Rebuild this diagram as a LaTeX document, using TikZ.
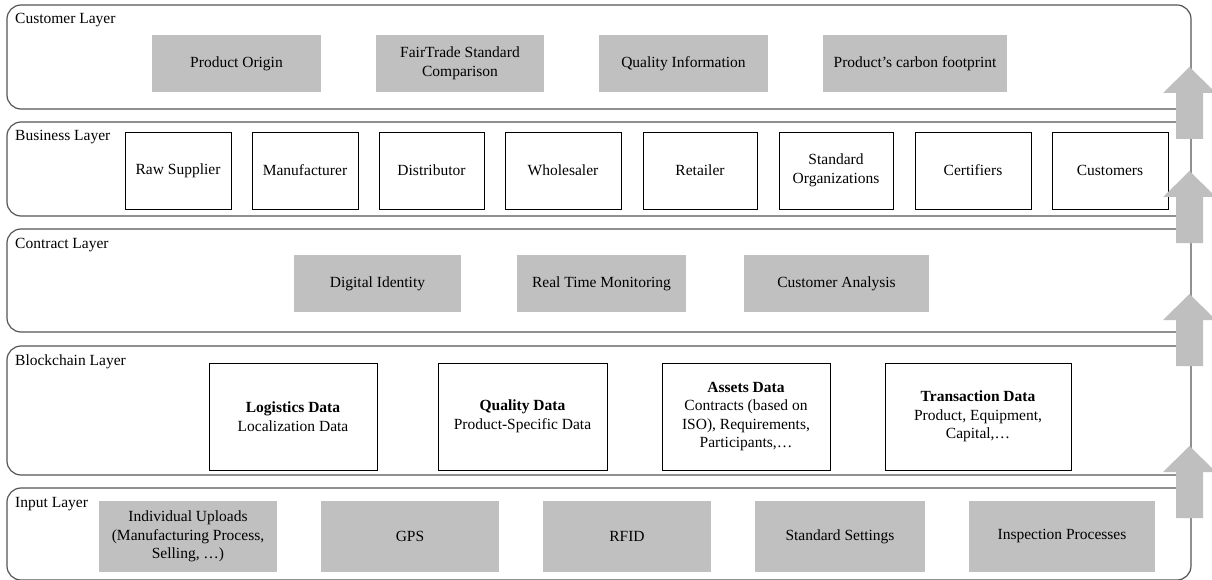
\documentclass[tikz,border=0pt]{standalone}
\usepackage{fontspec}
\IfFontExistsTF{LiberationSerif-Regular.ttf}
  {\setmainfont{LiberationSerif}[Extension=.ttf,UprightFont=*-Regular,BoldFont=*-Bold,ItalicFont=*-Italic,BoldItalicFont=*-BoldItalic]}
  {\setmainfont{Liberation Serif}}
\definecolor{boxgray}{HTML}{C0C0C0}
\definecolor{arrowgray}{HTML}{BFBFBF}
\definecolor{framegray}{HTML}{555555}
\begin{document}
\begin{tikzpicture}[x=1pt,y=-1pt,
  every node/.style={font=\fontsize{15.5}{18.5}\selectfont},
  layerbox/.style={draw=framegray, line width=1.2pt, rounded corners=14pt, fill=white,
    inner sep=0pt, outer sep=0pt, anchor=north west},
  lbl/.style={inner sep=0pt, anchor=base west},
  boxbase/.style={inner sep=0pt, outer sep=0pt, align=center, anchor=north west},
  graybox/.style={boxbase, fill=boxgray},
  whitebox/.style={boxbase, draw=black, line width=0.9pt, fill=white},
  blockarrow/.style={fill=arrowgray}
]
\clip (0,0) rectangle (1212,580);
\fill[white] (0,0) rectangle (1212,580);

% layers
\node[layerbox, minimum width=1184pt, minimum height=104pt] (Lcust) at (7,5) {};
\node[layerbox, minimum width=1184pt, minimum height=94pt]  (Lbus)  at (7,122) {};
\node[layerbox, minimum width=1184pt, minimum height=103pt] (Lcon)  at (7,229) {};
\node[layerbox, minimum width=1184pt, minimum height=129pt] (Lblk)  at (7,346) {};
\node[layerbox, minimum width=1184pt, minimum height=92pt]  (Linp)  at (7,488) {};

\node[lbl] (tcust) at (15,24)  {Customer Layer};
\node[lbl] (tbus)  at (15,141) {Business Layer};
\node[lbl] (tcon)  at (15,248) {Contract Layer};
\node[lbl] (tblk)  at (15,365) {Blockchain Layer};
\node[lbl] (tinp)  at (15,507) {Input Layer};

% customer layer
\node[graybox, minimum width=169pt, minimum height=57pt] (po) at (152,35) {Product Origin};
\node[graybox, minimum width=168pt, minimum height=57pt] (ft) at (376,35) {FairTrade Standard\\Comparison};
\node[graybox, minimum width=169pt, minimum height=57pt] (qi) at (599,35) {Quality Information};
\node[graybox, minimum width=184pt, minimum height=57pt] (pc) at (823,35) {Product's carbon footprint};

% business layer
\node[whitebox, minimum width=106pt, minimum height=77pt] (raw) at (125,132) {Raw Supplier};
\node[whitebox, minimum width=106pt, minimum height=77pt] (man) at (252,132) {Manufacturer};
\node[whitebox, minimum width=105pt, minimum height=77pt] (dis) at (379,132) {Distributor};
\node[whitebox, minimum width=116pt, minimum height=77pt] (who) at (505,132) {Wholesaler};
\node[whitebox, minimum width=114pt, minimum height=77pt] (ret) at (643,132) {Retailer};
\node[whitebox, minimum width=114pt, minimum height=77pt] (sto) at (779,132) {Standard\\Organizations};
\node[whitebox, minimum width=116pt, minimum height=77pt] (cer) at (915,132) {Certifiers};
\node[whitebox, minimum width=116pt, minimum height=77pt] (cus) at (1052,132) {Customers};

% contract layer
\node[graybox, minimum width=167pt, minimum height=57pt] (di) at (294,255) {Digital Identity};
\node[graybox, minimum width=169pt, minimum height=57pt] (rt) at (517,255) {Real Time Monitoring};
\node[graybox, minimum width=185pt, minimum height=57pt] (ca) at (744,255) {Customer Analysis};

% blockchain layer
\node[whitebox, minimum width=168pt, minimum height=107pt] (ld) at (209,363) {\textbf{Logistics Data}\\Localization Data};
\node[whitebox, minimum width=169pt, minimum height=107pt] (qd) at (438,363) {\textbf{Quality Data}\\Product-Specific Data};
\node[whitebox, minimum width=168pt, minimum height=107pt] (ad) at (662,363) {\textbf{Assets Data}\\Contracts (based on\\ISO), Requirements,\\Participants,…};
\node[whitebox, minimum width=186pt, minimum height=107pt] (td) at (885,363) {\textbf{Transaction Data}\\Product, Equipment,\\Capital,…};

% input layer
\node[graybox, minimum width=178pt, minimum height=71pt] (iu) at (99,501) {Individual Uploads\\(Manufacturing Process,\\Selling, …)};
\node[graybox, minimum width=178pt, minimum height=71pt] (gps) at (321,501) {GPS};
\node[graybox, minimum width=168pt, minimum height=71pt] (rfid) at (543,501) {RFID};
\node[graybox, minimum width=170pt, minimum height=71pt] (ss) at (755,501) {Standard Settings};
\node[graybox, minimum width=186pt, minimum height=71pt] (ip) at (969,501) {Inspection Processes};

% block arrows between layers
\foreach \t in {67,171,294,446}{
  \fill[blockarrow] (1176,\t+72) -- (1176,\t+26) -- (1163,\t+26) -- (1189.5,\t)
    -- (1216,\t+26) -- (1203,\t+26) -- (1203,\t+72) -- cycle;
}
\end{tikzpicture}
\end{document}
